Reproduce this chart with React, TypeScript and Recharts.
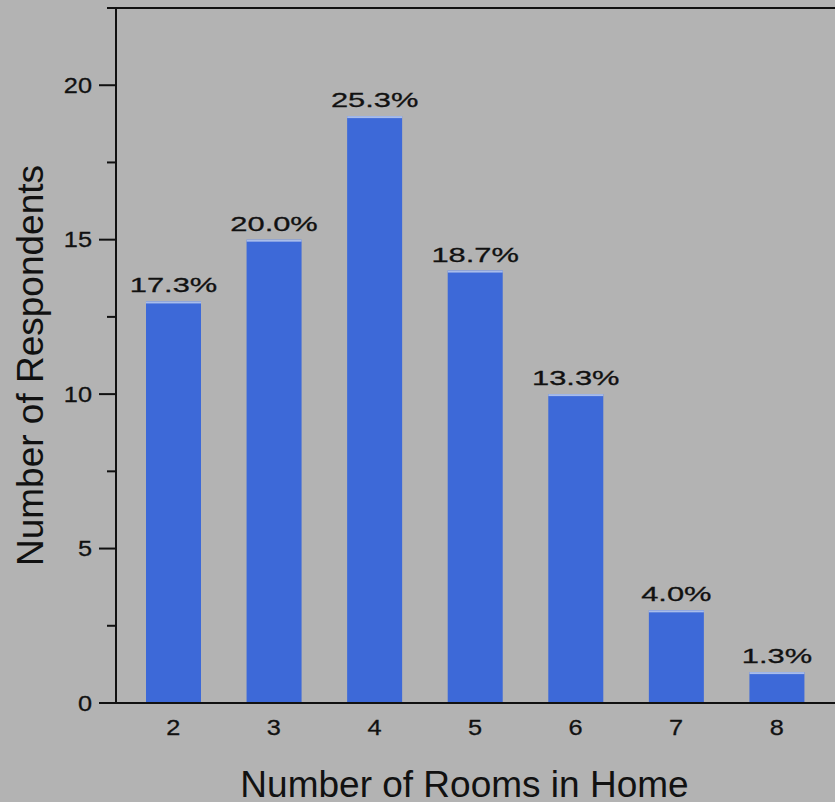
import { BarChart, Bar, XAxis, YAxis, ReferenceLine, LabelList } from 'recharts'

const rooms = ['2', '3', '4', '5', '6', '7', '8']
const respondents = [13, 15, 19, 14, 10, 3, 1]
const shareLabels = ['17.3%', '20.0%', '25.3%', '18.7%', '13.3%', '4.0%', '1.3%']
const yTicks = [0, 2.5, 5, 7.5, 10, 12.5, 15, 17.5, 20, 22.5]

const data = rooms.map((r, i) => ({ rooms: r, count: respondents[i], share: shareLabels[i] }))

const BG = '#b3b3b3'
const BLUE = '#3d69d8'
const INK = '#111'
const FONT = '"Liberation Sans", Arial, Helvetica, sans-serif'

// major ticks every 5 with a label, short unlabelled ones in between
function YTick({ x, y, payload }: any) {
  const v = payload.value
  const major = v % 5 === 0
  return (
    <g>
      <line x1={x - (major ? 17 : 9)} x2={x} y1={y} y2={y} stroke={INK} strokeWidth={2} />
      {major && (
        <text
          transform={`translate(${x - 24},${y + 7.5}) scale(1.15,1)`}
          textAnchor="end"
          fontSize={22}
          fill={INK}
          stroke={INK}
          strokeWidth={0.3}
          fontFamily={FONT}
        >
          {v}
        </text>
      )}
    </g>
  )
}

function XTick({ x, y, payload }: any) {
  return (
    <text
      transform={`translate(${x},${y + 32}) scale(1.15,1)`}
      textAnchor="middle"
      fontSize={22}
      fill={INK}
      stroke={INK}
      strokeWidth={0.3}
      fontFamily={FONT}
    >
      {payload.value}
    </text>
  )
}

function BarShape({ x, y, width, height }: any) {
  return (
    <g>
      <rect x={x} y={y} width={width} height={height} fill={BLUE} />
      <rect x={x} y={y} width={width} height={2} fill="#a9bdea" />
    </g>
  )
}

function ShareLabel({ x, y, width, value }: any) {
  return (
    <text
      transform={`translate(${x + width / 2},${y - 9}) scale(1.47,1)`}
      textAnchor="middle"
      fontSize={21}
      fill={INK}
      stroke={INK}
      strokeWidth={0.3}
      fontFamily={FONT}
    >
      {value}
    </text>
  )
}

export default function App() {
  return (
    <div style={{ position: 'absolute', left: 0, top: 0, width: 835, height: 802, background: BG }}>
      <BarChart width={835} height={802} data={data} margin={{ top: 8, right: 0, bottom: 0, left: 0 }}>
        <XAxis
          dataKey="rooms"
          height={99}
          padding={{ left: 7, right: 8 }}
          tickLine={false}
          tickSize={0}
          tickMargin={0}
          axisLine={{ stroke: INK, strokeWidth: 2 }}
          tick={<XTick />}
          label={{
            content: ({ viewBox }: any) => (
              <text
                x={viewBox.x + viewBox.width / 2 - 11}
                y={viewBox.y + viewBox.height - 5}
                textAnchor="middle"
                fontSize={37}
                fill={INK}
                fontFamily={FONT}
              >
                Number of Rooms in Home
              </text>
            ),
          }}
        />
        <YAxis
          type="number"
          width={116}
          domain={[0, 22.5]}
          ticks={yTicks}
          interval={0}
          tickLine={false}
          tickSize={0}
          tickMargin={0}
          axisLine={{ stroke: INK, strokeWidth: 2 }}
          tick={<YTick />}
          label={{
            content: ({ viewBox }: any) => {
              const cx = viewBox.x + 43
              const cy = viewBox.y + viewBox.height / 2 + 10
              return (
                <text
                  x={cx}
                  y={cy}
                  transform={`rotate(-90,${cx},${cy})`}
                  textAnchor="middle"
                  fontSize={37}
                  fill={INK}
                  fontFamily={FONT}
                >
                  Number of Respondents
                </text>
              )
            },
          }}
        />
        <ReferenceLine y={22.5} stroke={INK} strokeWidth={2} />
        <Bar dataKey="count" barSize={55} shape={<BarShape />} isAnimationActive={false}>
          <LabelList dataKey="share" content={<ShareLabel />} />
        </Bar>
      </BarChart>
    </div>
  )
}
